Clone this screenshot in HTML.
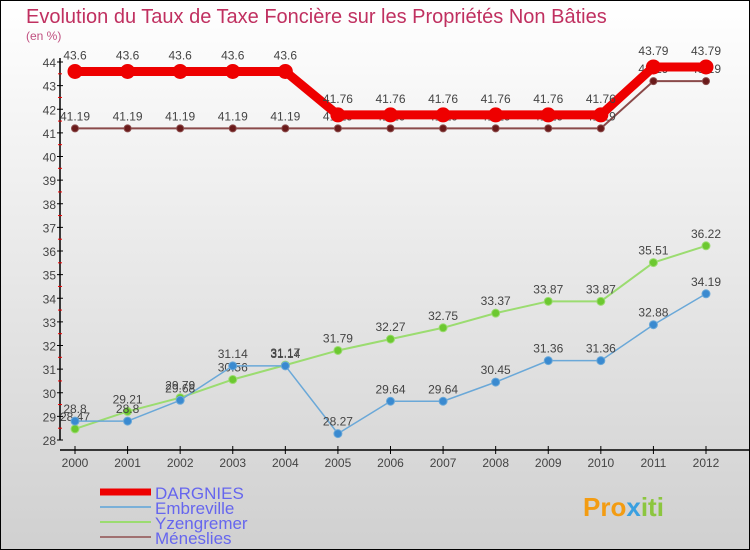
<!DOCTYPE html>
<html><head><meta charset="utf-8"><style>
body{margin:0;}
#c{position:relative;width:750px;height:550px;overflow:hidden;font-family:"Liberation Sans",sans-serif;}
</style></head><body>
<div id="c">
<svg id="s" width="750" height="550" xmlns="http://www.w3.org/2000/svg">
<defs><linearGradient id="bg" x1="0" y1="0" x2="0" y2="1"><stop offset="0" stop-color="#ffffff"/><stop offset="1" stop-color="#d0d0d0"/></linearGradient></defs>
<rect x="0.5" y="0.5" width="749" height="549" fill="url(#bg)" stroke="#000"/>
<text x="26" y="23" font-size="20" fill="#c03060">Evolution du Taux de Taxe Foncière sur les Propriétés Non Bâties</text>
<text x="26" y="40" font-size="12" fill="#c05080">(en %)</text>
<g id="axes"></g><g id="series"></g><g id="legend"></g>
<text x="583" y="516" font-size="26" font-weight="bold" fill="#f39c12">Pro<tspan fill="#3aa0e0">x</tspan><tspan fill="#8cc63f">iti</tspan></text>
</svg>
</div>
<script>
const years=[2000,2001,2002,2003,2004,2005,2006,2007,2008,2009,2010,2011,2012];
const dargnies=[43.6,43.6,43.6,43.6,43.6,41.76,41.76,41.76,41.76,41.76,41.76,43.79,43.79];
const embreville=[28.8,28.8,29.68,31.14,31.14,28.27,29.64,29.64,30.45,31.36,31.36,32.88,34.19];
const yzengremer=[28.47,29.21,29.79,30.56,31.17,31.79,32.27,32.75,33.37,33.87,33.87,35.51,36.22];
const meneslies=[41.19,41.19,41.19,41.19,41.19,41.19,41.19,41.19,41.19,41.19,41.19,43.19,43.19];
const yTicks=[28,29,30,31,32,33,34,35,36,37,38,39,40,41,42,43,44];
const NS="http://www.w3.org/2000/svg";
function X(i){return 75+i*(706-75)/(years.length-1);}
function Y(v){return 440-(v-28)*(440-62)/16;}
function mk(tag,attrs,parent){const e=document.createElementNS(NS,tag);for(const k in attrs)e.setAttribute(k,attrs[k]);parent.appendChild(e);return e;}
const ax=document.getElementById('axes');
let yl=mk('line',{x1:60,y1:Y(44)-4,x2:60,y2:Y(28),stroke:'#000','stroke-width':1.5},ax);


let xl=mk('line',{x1:60,y1:450,x2:750,y2:450,stroke:'#000','stroke-width':1.5},ax);


yTicks.forEach(t=>{
 mk('line',{x1:57,y1:Y(t),x2:63,y2:Y(t),stroke:'#000'},ax);
 if(t<44)mk('line',{x1:58,y1:Y(t+0.5),x2:62,y2:Y(t+0.5),stroke:'#e00'},ax);
 const tx=mk('text',{x:56,y:Y(t)+5,'font-size':12,fill:'#444','text-anchor':'end'},ax);
 tx.textContent=t;
 
 
});
years.forEach((yr,i)=>{
 mk('line',{x1:X(i),y1:446,x2:X(i),y2:454,stroke:'#000'},ax);
 const tx=mk('text',{x:X(i),y:467,'font-size':12,fill:'#444','text-anchor':'middle'},ax);
 tx.textContent=yr;
 
 
});
const sg=document.getElementById('series');
function draw(name,vals,color,w,r,dot,labelDy){
 const g=mk('g',{},sg);
 
 
 const p=mk('polyline',{points:vals.map((v,i)=>X(i)+','+Y(v)).join(' '),fill:'none',stroke:color,'stroke-width':w,'stroke-linejoin':'round'},g);
 
 
 vals.forEach((v,i)=>{
  const c=mk('circle',{cx:X(i),cy:Y(v),r:r,fill:dot,stroke:color,'stroke-width':1},g);
  
  
  const t=mk('text',{x:X(i),y:Y(v)+labelDy,'font-size':12,fill:'#444','text-anchor':'middle'},g);
  t.textContent=v;
  
  
 });
}
draw('meneslies',meneslies,'#8a4a4a',2,3.5,'#6a1a1a',-8);
draw('yzengremer',yzengremer,'#9bdc70',2,4,'#6cc830',-8);
draw('embreville',embreville,'#6aa8d8',1.5,4,'#3a8ad0',-8);
draw('dargnies',dargnies,'#ee0000',9,7,'#ee0000',-12);
const lg=document.getElementById('legend');
const leg=[['DARGNIES','#ee0000',7],['Embreville','#7ab0d8',2],['Yzengremer','#9bdc70',2],['Méneslies','#a07070',2]];
leg.forEach((l,i)=>{
 const y=492+i*15;
 const ln=mk('line',{x1:100,y1:y,x2:151,y2:y,stroke:l[1],'stroke-width':l[2]},lg);
 
 
 const t=mk('text',{x:155,y:y+7,'font-size':17,fill:'#6666ee'},lg);
 t.textContent=l[0];
 
 
});
</script>
</body></html>
